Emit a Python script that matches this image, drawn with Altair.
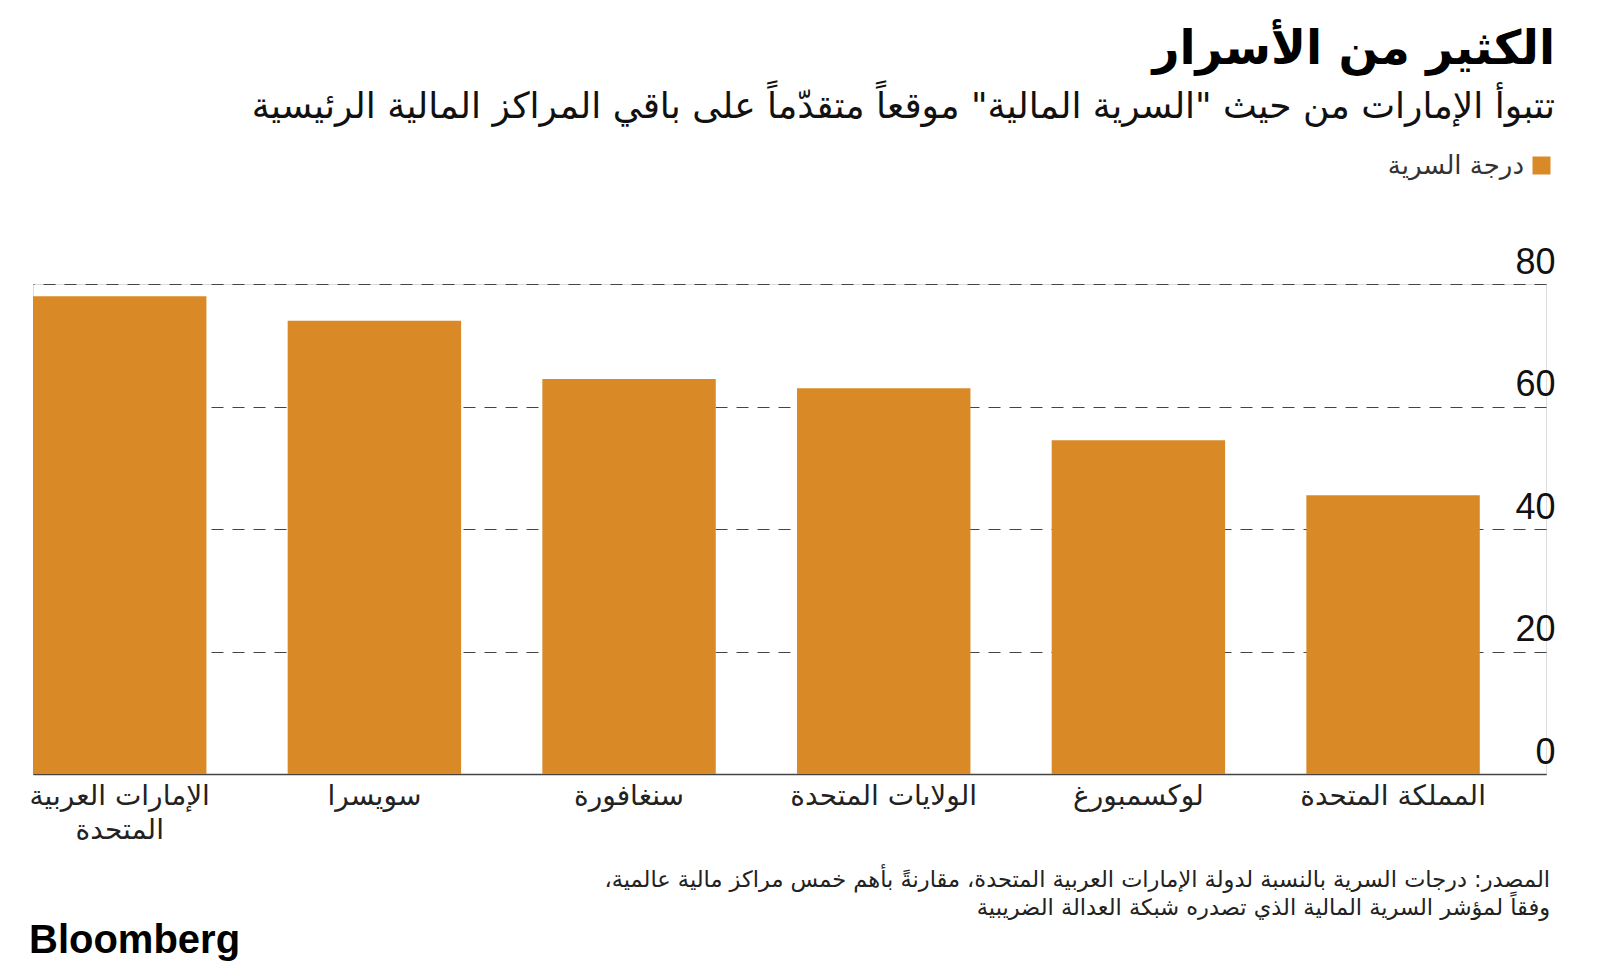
import altair as alt
import pandas as pd

countries = ["الإمارات العربية|المتحدة", "سويسرا", "سنغافورة", "الولايات المتحدة", "لوكسمبورغ", "المملكة المتحدة"]
scores = [78, 74, 64.5, 63, 54.5, 45.5]
series_name = "درجة السرية"
y_ticks = [0, 20, 40, 60, 80]

title_text = "الكثير من الأسرار"
subtitle_text = "تتبوأ الإمارات من حيث \"السرية المالية\" موقعاً متقدّماً على باقي المراكز المالية الرئيسية"
source_lines = "المصدر: درجات السرية بالنسبة لدولة الإمارات العربية المتحدة، مقارنةً بأهم خمس مراكز مالية عالمية،\u200f\nوفقاً لمؤشر السرية المالية الذي تصدره شبكة العدالة الضريبية"
brand = "Bloomberg"

ORANGE = "#D98A27"
AR_FONT = "DejaVu Sans"

df = pd.DataFrame({"country": countries, "score": scores, "series": [series_name] * len(countries)})
color_scale = alt.Scale(domain=[series_name], range=[ORANGE])

bars = alt.Chart(df).mark_bar().encode(
    x=alt.X(
        "country:N",
        sort=None,
        scale=alt.Scale(paddingInner=0.319, paddingOuter=0.13, align=0),
        axis=alt.Axis(
            title=None,
            labelAngle=0,
            labelExpr="split(datum.value, '|')",
            labelFont=AR_FONT,
            labelFontSize=28,
            labelColor="#222222",
            labelPadding=8,
            labelBaseline="top",
            labelLineHeight=34,
            labelLimit=400,
            ticks=False,
            domainColor="#444444",
            domainWidth=1.5,
        ),
    ),
    y=alt.Y(
        "score:Q",
        scale=alt.Scale(domain=[0, 80], nice=False),
        axis=alt.Axis(
            title=None,
            orient="right",
            values=y_ticks,
            grid=True,
            gridDash=[12, 9],
            gridColor="#444444",
            gridWidth=1.2,
            domain=False,
            ticks=False,
            labelAlign="right",
            labelBaseline="alphabetic",
            labelPadding=9,
            labelOffset=-11,
            labelFont="Liberation Sans",
            labelFontSize=36,
            labelColor="#111111",
        ),
    ),
    color=alt.Color("series:N", scale=color_scale, legend=None),
)

leg_df = pd.DataFrame({"series": [series_name]})
leg_sym = alt.Chart(leg_df).mark_square(size=324, opacity=1).encode(
    x=alt.value(1508.5), y=alt.value(-118.5),
    color=alt.Color("series:N", scale=color_scale, legend=None),
)
leg_txt = alt.Chart(leg_df).mark_text(
    align="right", baseline="middle", font=AR_FONT, fontSize=26, color="#333333",
).encode(x=alt.value(1491), y=alt.value(-118.5), text="series:N")

foot_df = pd.DataFrame({"t": [source_lines]})
source = alt.Chart(foot_df).mark_text(
    align="right", baseline="middle", font=AR_FONT, fontSize=22.5, color="#222222",
    lineBreak="\n", lineHeight=28,
).encode(text="t:N", x=alt.value(1517), y=alt.value(596))

brand_df = pd.DataFrame({"t": [brand]})
logo = alt.Chart(brand_df).mark_text(
    align="left", baseline="middle", font="Liberation Sans", fontSize=40, fontWeight="bold", color="#000000",
).encode(text="t:N", x=alt.value(-4), y=alt.value(657))

chart = alt.layer(bars, leg_sym, leg_txt, source, logo).properties(
    width=1513,
    height=490,
    autosize=alt.AutoSizeParams(type="none"),
    padding={"left": 25, "top": 276, "right": 40, "bottom": 190},
    title=alt.TitleParams(
        text=title_text,
        subtitle=subtitle_text,
        anchor="end",
        orient="top",
        font=AR_FONT,
        fontSize=47,
        fontWeight="bold",
        color="#000000",
        subtitleFont=AR_FONT,
        subtitleFontSize=36,
        subtitleColor="#111111",
        subtitlePadding=16,
        offset=27,
    ),
).configure_view(stroke=None).configure(background="white")

chart.save("out.html", embed_options={"renderer": "svg", "actions": False})
